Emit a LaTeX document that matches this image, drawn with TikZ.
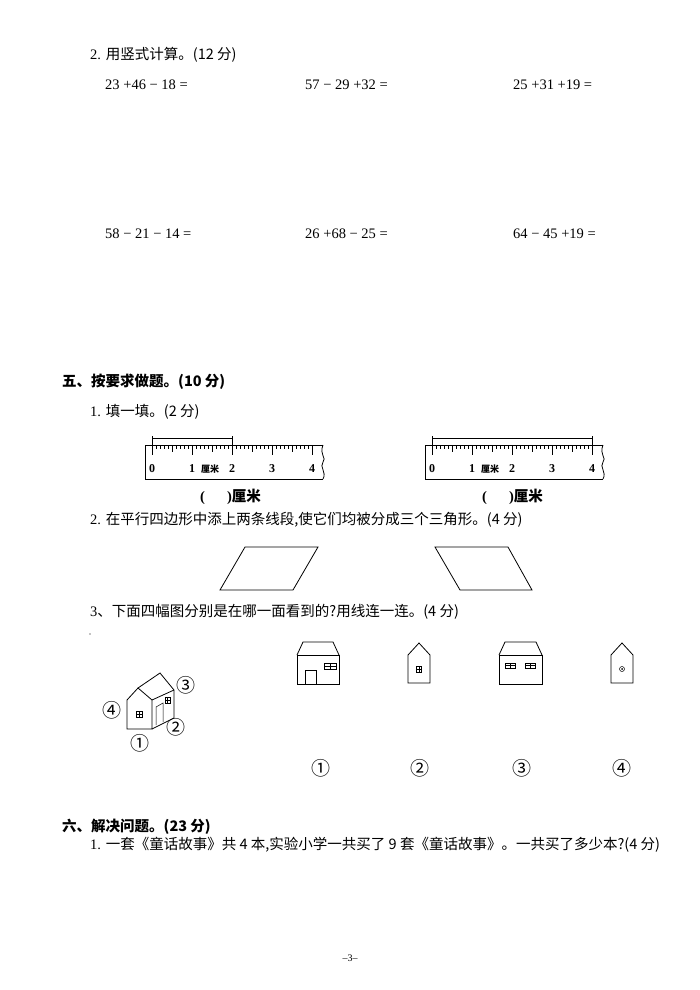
\documentclass[tikz,border=0pt]{standalone}
\usepackage{fontspec}
\setmainfont{Liberation Serif}
\newfontfamily\cjk{Noto Sans CJK SC}
\begin{document}
\begin{tikzpicture}[x=1pt,y=-1pt,
  txt/.style={anchor=west,inner sep=0pt,font=\fontsize{14.5}{16}\selectfont},
  eq/.style={anchor=west,inner sep=0pt,font=\fontsize{14.5}{16}\selectfont},
  num/.style={inner sep=0pt,font=\fontsize{12}{12}\selectfont\bfseries},
  circ/.style={inner sep=0pt,font=\fontsize{19}{19}\selectfont\cjk},
  ln/.style={line width=0.8pt}]
\useasboundingbox[fill=white] (0,0) rectangle (700,990);
\node[txt] (t1) at (90,55) {2. \cjk 用竖式计算。(12 分)};
\node[eq] (e1) at (105,85) {23 +46 − 18 =};
\node[eq] (e2) at (305,85) {57 − 29 +32 =};
\node[eq] (e3) at (513,85) {25 +31 +19 =};
\node[eq] (e4) at (105,234) {58 − 21 − 14 =};
\node[eq] (e5) at (305,234) {26 +68 − 25 =};
\node[eq] (e6) at (513,234) {64 − 45 +19 =};
\node[txt] (s5) at (62,382) {\cjk\bfseries 五、按要求做题。(10 分)};
\node[txt] (q1) at (90,412) {1. \cjk 填一填。(2 分)};
% rulers
\foreach \L/\a/\b in {145/152/232,425/432/592}{
  \pgfmathsetmacro\R{\L+178}
  \draw[ln] (\R,445) -- (\L,445) -- (\L,479) -- (\R,479);
  \draw[ln] (\R,445) .. controls (\R-4,455) and (\R+4,458) .. (\R,462) .. controls (\R-4,467) and (\R+4,472) .. (\R,479);
  \foreach \i in {0,...,40}{
    \pgfmathsetmacro\xx{\a+4*\i}
    \pgfmathsetmacro\h{ifthenelse(mod(\i,10)==0,10,ifthenelse(mod(\i,5)==0,7,4))}
    \draw[line width=0.5pt] (\xx,445) -- (\xx,445+\h);
  }
  \draw[ln] (\a,438) -- (\b,438);
  \draw[ln] (\a,436) -- (\a,445);
  \draw[ln] (\b,436) -- (\b,445);
  \foreach \k in {0,...,4}{
    \node[num] at (\a+40*\k,469) {\k};
  }
  \node[inner sep=0pt,font=\fontsize{9}{9}\selectfont\cjk\bfseries] at (\a+58,469) {厘米};
}
\node[txt] (a1) at (200,497) {\bfseries (\hspace{22pt})\cjk 厘米};
\node[txt] (a2) at (482,497) {\bfseries (\hspace{22pt})\cjk 厘米};
\node[txt] (q2) at (90,520) {2. \cjk 在平行四边形中添上两条线段,使它们均被分成三个三角形。(4 分)};
\draw[ln] (220,590) -- (245,547) -- (318,547) -- (293,590) -- cycle;
\draw[ln] (435,547) -- (508,547) -- (532,590) -- (460,590) -- cycle;
\node[txt] (q3) at (90,612) {3\cjk 、下面四幅图分别是在哪一面看到的?用线连一连。(4 分)};
\fill (90,634) circle (0.6);
% big house
\draw[ln] (127,729) -- (127,700) -- (138,688) -- (152,700) -- (152,729) -- cycle;
\draw[ln] (138,688) -- (160,673) -- (174,690) -- (174,718) -- (152,729);
\draw[ln] (152,700) -- (174,690);
\draw[line width=0.5pt] (136,711) rectangle (142,717) (139,711) -- (139,717) (136,714) -- (142,714);
\draw[line width=0.5pt] (156,725) -- (156,707) -- (163,703) -- (163,722);
\draw[line width=0.5pt] (165,697) rectangle (170,703) (167.5,697) -- (167.5,703) (165,700) -- (170,700);
\node[circ] (b4) at (112,710) {④};
\node[circ] (b3) at (186,685) {③};
\node[circ] (b2) at (176,727) {②};
\node[circ] (b1) at (140,743) {①};
% view 1
\draw[ln] (297,655) rectangle (339,684);
\draw[ln] (297,655) -- (303,642) -- (333,642) -- (339,655);
\draw[line width=0.6pt] (305,684) -- (305,670) -- (316,670) -- (316,684);
\draw[line width=0.5pt] (324,663) rectangle (336,669) (330,663) -- (330,669) (324,666) -- (336,666);
% view 2
\draw[ln] (408,683) -- (408,655) -- (419,643) -- (430,655) -- (430,683) -- cycle;
\draw[line width=0.5pt] (416.5,666) rectangle (421.5,672) (419,666) -- (419,672) (416.5,669) -- (421.5,669);
% view 3
\draw[ln] (499,655) rectangle (542,684);
\draw[ln] (499,655) -- (505,642) -- (536,642) -- (542,655);
\draw[line width=0.5pt] (505,663) rectangle (515,668) (510,663) -- (510,668) (505,665.5) -- (515,665.5);
\draw[line width=0.5pt] (525,663) rectangle (535,668) (530,663) -- (530,668) (525,665.5) -- (535,665.5);
% view 4
\draw[ln] (611,683) -- (611,655) -- (622,643) -- (633,655) -- (633,683) -- cycle;
\draw[line width=0.5pt] (622,669) circle (2.5);
\fill (622,669) circle (1);
\node[circ] (v1) at (321,768) {①};
\node[circ] (v2) at (420,768) {②};
\node[circ] (v3) at (522,768) {③};
\node[circ] (v4) at (622,768) {④};
\node[txt] (s6) at (62,827) {\cjk\bfseries 六、解决问题。(23 分)};
\node[txt] (q4) at (90,845) {1. \cjk 一套《童话故事》共 4 本,实验小学一共买了 9 套《童话故事》。一共买了多少本?(4 分)};
\node[inner sep=0pt,font=\fontsize{10}{10}\selectfont] (pg) at (350,958) {–3–};
\end{tikzpicture}
\end{document}
